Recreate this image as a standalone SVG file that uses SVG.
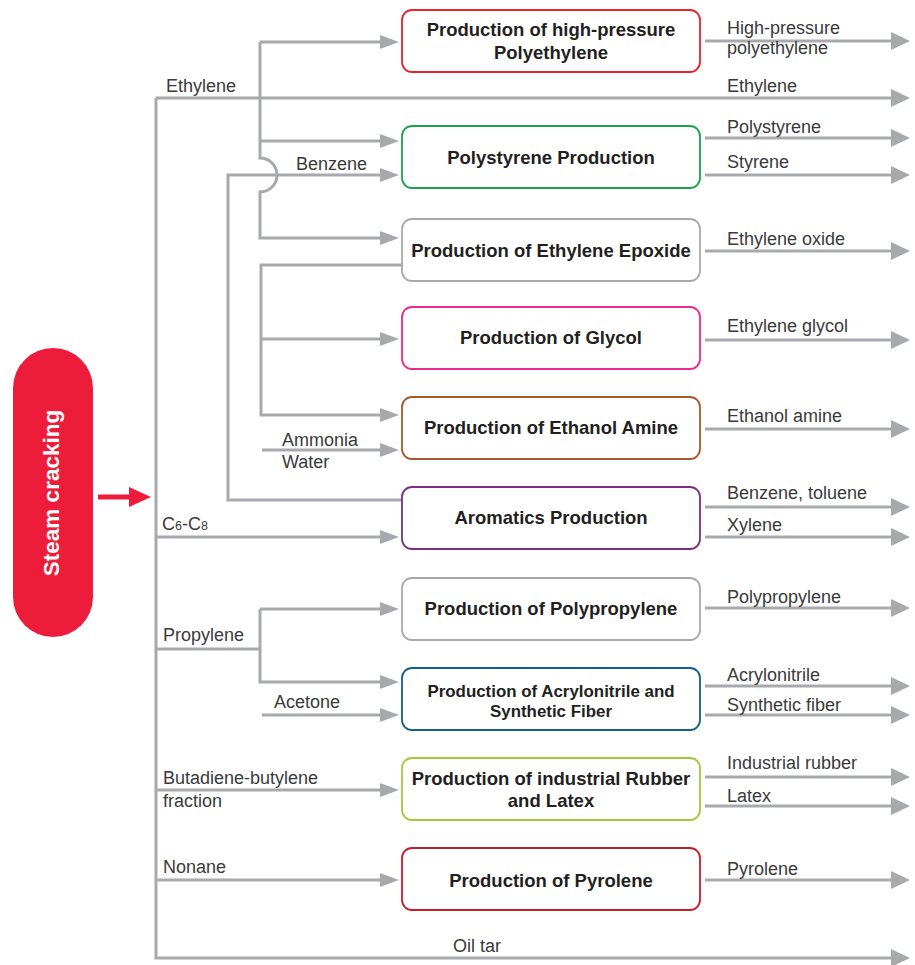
<svg xmlns="http://www.w3.org/2000/svg" width="915" height="965" viewBox="0 0 915 965">
<defs>
<style>
.c{fill:none;stroke:#a7a9ac;stroke-width:3}
.in{marker-end:url(#ah)}
.out{marker-end:url(#ahb)}
.box{fill:#fff;stroke-width:1.8}
.bt{font-family:"Liberation Sans",Arial,sans-serif;font-weight:bold;font-size:18.5px;fill:#231f20;text-anchor:middle}
.bts{font-size:16.9px}
.lb{font-family:"Liberation Sans",Arial,sans-serif;font-size:18px;fill:#3a3a3a}
</style>
<marker id="ah" markerUnits="userSpaceOnUse" markerWidth="19" markerHeight="14" refX="9" refY="7" orient="auto">
<path d="M0,0 L19,7 L0,14 z" fill="#a7a9ac"/>
</marker>
<marker id="ahb" markerUnits="userSpaceOnUse" markerWidth="19" markerHeight="18" refX="9" refY="9" orient="auto">
<path d="M0,0 L19,9 L0,18 z" fill="#a7a9ac"/>
</marker>
<marker id="ahr" markerUnits="userSpaceOnUse" markerWidth="22" markerHeight="20" refX="12" refY="10" orient="auto">
<path d="M0,0 L22,10 L0,20 z" fill="#ed1c3a"/>
</marker>
</defs>
<rect width="915" height="965" fill="#fff"/>

<g id="connectors">
<path class="c out" d="M156,98 V958 H900"/>
<path class="c out" d="M156,98 H900"/>
<path class="c in" d="M260,42 H389"/>
<path class="c in" d="M260,141 H389"/>
<path class="c in" d="M260,42 V158 A17,17 0 0 1 260,192 V238 H389"/>
<path class="c in" d="M402,500 H228 V175 H389"/>
<path class="c in" d="M402,265 H261 V415 H389"/>
<path class="c in" d="M261,339 H389"/>
<path class="c in" d="M262,450 H389"/>
<path class="c in" d="M156,537 H389"/>
<path class="c" d="M156,649 H260"/>
<path class="c in" d="M260,609 V682 H389"/>
<path class="c in" d="M260,609 H389"/>
<path class="c in" d="M262,715 H389"/>
<path class="c in" d="M156,790 H389"/>
<path class="c in" d="M156,880 H389"/>
<path class="c out" d="M705,41 H900"/>
<path class="c out" d="M705,138 H900"/>
<path class="c out" d="M705,175 H900"/>
<path class="c out" d="M705,251 H900"/>
<path class="c out" d="M705,340 H900"/>
<path class="c out" d="M705,429 H900"/>
<path class="c out" d="M705,507 H900"/>
<path class="c out" d="M705,537 H900"/>
<path class="c out" d="M705,608 H900"/>
<path class="c out" d="M705,686 H900"/>
<path class="c out" d="M705,715 H900"/>
<path class="c out" d="M705,777 H900"/>
<path class="c out" d="M705,806 H900"/>
<path class="c out" d="M705,880 H900"/>
<path d="M98,497 H141" fill="none" stroke="#ed1c3a" stroke-width="5" marker-end="url(#ahr)"/>
</g>

<g id="labels">
<text class="lb" x="166" y="92">Ethylene</text>
<text class="lb" x="296" y="170">Benzene</text>
<text class="lb" x="282" y="446">Ammonia</text>
<text class="lb" x="282" y="468">Water</text>
<text class="lb" x="162" y="530">C<tspan style="font-size:12.5px">6</tspan>-C<tspan style="font-size:12.5px">8</tspan></text>
<text class="lb" x="163" y="641">Propylene</text>
<text class="lb" x="274" y="708">Acetone</text>
<text class="lb" x="163" y="784">Butadiene-butylene</text>
<text class="lb" x="163" y="807">fraction</text>
<text class="lb" x="163" y="873">Nonane</text>
<text class="lb" x="453" y="952">Oil tar</text>
<text class="lb" x="727" y="34">High-pressure</text>
<text class="lb" x="727" y="54">polyethylene</text>
<text class="lb" x="727" y="92">Ethylene</text>
<text class="lb" x="727" y="133">Polystyrene</text>
<text class="lb" x="727" y="168">Styrene</text>
<text class="lb" x="727" y="245">Ethylene oxide</text>
<text class="lb" x="727" y="332">Ethylene glycol</text>
<text class="lb" x="727" y="422">Ethanol amine</text>
<text class="lb" x="727" y="499">Benzene, toluene</text>
<text class="lb" x="727" y="531">Xylene</text>
<text class="lb" x="727" y="603">Polypropylene</text>
<text class="lb" x="727" y="681">Acrylonitrile</text>
<text class="lb" x="727" y="711">Synthetic fiber</text>
<text class="lb" x="727" y="769">Industrial rubber</text>
<text class="lb" x="727" y="802">Latex</text>
<text class="lb" x="727" y="875">Pyrolene</text>
</g>

<g id="steam-cracking">
<rect x="13" y="348" width="80" height="289" rx="40" fill="#ed1c3a"/>
<text x="0" y="0" transform="translate(59,493) rotate(-90)" font-family="'Liberation Sans',Arial,sans-serif" font-weight="bold" font-size="22.5" fill="#fff" text-anchor="middle">Steam cracking</text>
</g>

<g id="n1"><rect class="box" x="402" y="10" width="298" height="62" rx="10" stroke="#e8242b"/><text class="bt" x="551" y="36">Production of high-pressure</text><text class="bt" x="551" y="59">Polyethylene</text></g>
<g id="n2"><rect class="box" x="402" y="126" width="298" height="62" rx="10" stroke="#1aa34a"/><text class="bt" x="551" y="164">Polystyrene Production</text></g>
<g id="n3"><rect class="box" x="402" y="219" width="298" height="62" rx="10" stroke="#a7a9ac"/><text class="bt" x="551" y="257">Production of Ethylene Epoxide</text></g>
<g id="n4"><rect class="box" x="402" y="307" width="298" height="62" rx="10" stroke="#ec2a8c"/><text class="bt" x="551" y="344">Production of Glycol</text></g>
<g id="n5"><rect class="box" x="402" y="397" width="298" height="62" rx="10" stroke="#a65a29"/><text class="bt" x="551" y="434">Production of Ethanol Amine</text></g>
<g id="n6"><rect class="box" x="402" y="487" width="298" height="62" rx="10" stroke="#7e2d85"/><text class="bt" x="551" y="524">Aromatics Production</text></g>
<g id="n7"><rect class="box" x="402" y="578" width="298" height="62" rx="10" stroke="#a7a9ac"/><text class="bt" x="551" y="615">Production of Polypropylene</text></g>
<g id="n8"><rect class="box" x="402" y="668" width="298" height="62" rx="10" stroke="#155f8a"/><text class="bt bts" x="551" y="697">Production of Acrylonitrile and</text><text class="bt bts" x="551" y="717">Synthetic Fiber</text></g>
<g id="n9"><rect class="box" x="402" y="758" width="298" height="62" rx="10" stroke="#a2c83c"/><text class="bt" x="551" y="785">Production of industrial Rubber</text><text class="bt" x="551" y="807">and Latex</text></g>
<g id="n10"><rect class="box" x="402" y="848" width="298" height="62" rx="10" stroke="#c41e2a"/><text class="bt" x="551" y="887">Production of Pyrolene</text></g>
</svg>
